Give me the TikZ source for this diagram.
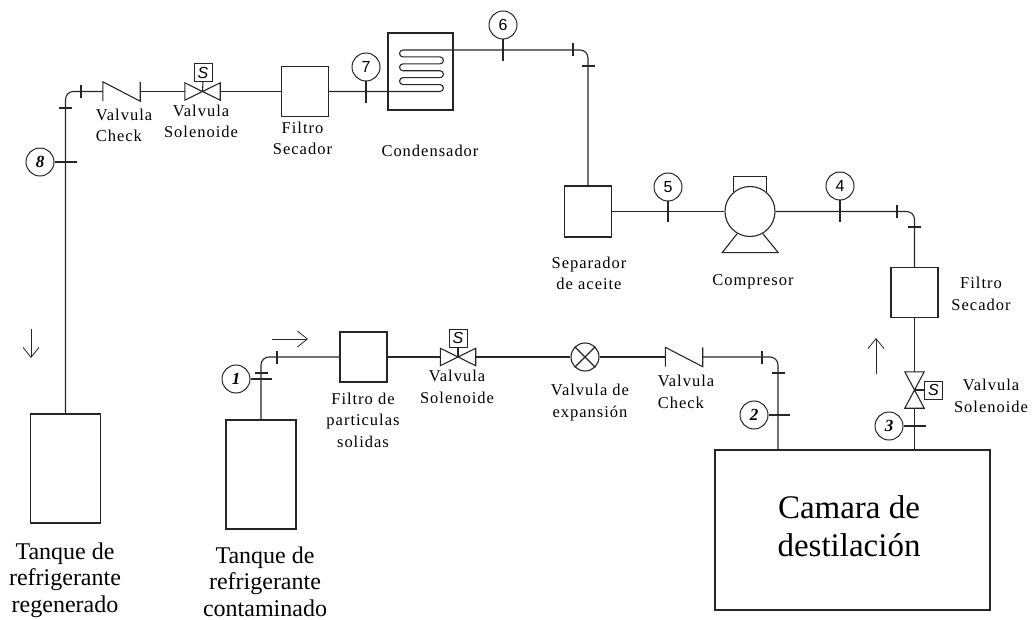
\documentclass[tikz,border=0pt]{standalone}
\usepackage{fontspec}
\setmainfont{Liberation Serif}
\newfontfamily\spacedfont[LetterSpace=6]{Liberation Serif}
\newfontfamily\digitfont{Liberation Sans}
\usetikzlibrary{arrows.meta}
\tikzset{
	pipe/.style={line width=1.1pt,black!85},
	elbow/.style={pipe,rounded corners=8pt},
	flow/.style={line width=0.8pt,black!85,-{Straight Barb[length=10pt,width=16pt]}},
	box/.style={draw=black!85,line width=1.1pt,minimum width=#1,inner sep=0pt},
	tank/.style={box=70pt,minimum height=109pt},
	filterbox/.style={box=47pt,minimum height=50pt},
	gauge/.style={circle,draw=black!85,line width=1pt,minimum size=28pt,inner sep=0pt,font=\digitfont\fontsize{16}{16}\selectfont},
	gaugeb/.style={gauge,font=\bfseries\itshape\fontsize{17}{17}\selectfont},
	sbox/.style={box=18pt,minimum height=18pt,line width=0.8pt,font=\digitfont\itshape\fontsize{16}{16}\selectfont},
	check/.style={inner sep=0pt,minimum width=37pt,minimum height=19pt},
	bowtie/.style={inner sep=0pt,minimum width=35pt,minimum height=17pt},
	small/.style={anchor=base,align=center,font=\spacedfont\fontsize{16.5}{21.5}\selectfont},
	large/.style={anchor=base,align=center,inner sep=0pt,font=\fontsize{24}{26.5}\selectfont},
	huge/.style={anchor=base,align=center,font=\fontsize{33}{38}\selectfont}
}
\begin{document}
\begin{tikzpicture}[x=1pt,y=-1pt]
	\useasboundingbox (0,0) rectangle (1033,620);
	% equipment
	\node[tank] (tankr) at (65.5,468.5) {};
	\node[tank] (tankc) at (261,474.5) {};
	\node[box=275pt,minimum height=160pt] (cam) at (852.5,530) {};
	\node[filterbox] (filt1) at (363.5,357) {};
	\node[filterbox] (filt2) at (305,91.5) {};
	\node[filterbox] (filt3) at (914.5,292.5) {};
	\node[filterbox,minimum height=51pt] (sep) at (588,211.5) {};
	\node[box=65pt,minimum height=77pt] (cond) at (420.5,71.5) {};
	\node[circle,draw=black!85,line width=1.1pt,minimum size=50pt,inner sep=0pt] (comp) at (750,211.5) {};
	\node[circle,draw=black!85,line width=1.1pt,minimum size=28pt,inner sep=0pt] (exp) at (585,357) {};
	% valves
	\node[check] (chk1) at (121.5,91.5) {};
	\node[check] (chk2) at (684,357) {};
	\node[bowtie] (sol1) at (202.5,91.5) {};
	\node[bowtie] (sol2) at (458,357) {};
	\node[bowtie,minimum width=19pt,minimum height=36pt] (sol3) at (914.5,390) {};
	\node[sbox] (s1) at (203,72.5) {S};
	\node[sbox] (s2) at (458,338) {S};
	\node[sbox] (s3) at (933.5,390) {S};
	% gauges
	\node[gaugeb] (g1) at (236,379) {1};
	\node[gaugeb] (g2) at (754,415) {2};
	\node[gaugeb] (g3) at (889,426) {3};
	\node[gauge] (g4) at (840,186) {4};
	\node[gauge] (g5) at (668,187) {5};
	\node[gauge] (g6) at (503,25) {6};
	\node[gauge] (g7) at (366,67) {7};
	\node[gaugeb] (g8) at (40,162) {8};
	\coordinate (t1) at (272,379);
	\coordinate (t2) at (790,415);
	\coordinate (t3) at (926,426);
	\coordinate (t4) at (840,222);
	\coordinate (t5) at (668,222);
	\coordinate (t6) at (503,61);
	\coordinate (t7) at (366,103);
	\coordinate (t8) at (77,162);
	\foreach \g in {1,...,8}
		\draw[pipe] (g\g) -- (t\g);
	% valve bodies
	\foreach \v in {chk1,chk2}
		\draw[pipe] (\v.south west) -- (\v.north west) -- (\v.south east) -- (\v.north east);
	\foreach \v in {sol1,sol2}
		\draw[pipe] (\v.north west) -- (\v.south east) -- (\v.north east) -- (\v.south west) -- cycle;
	\draw[pipe] (sol3.north west) -- (sol3.north east) -- (sol3.south west) -- (sol3.south east) -- cycle;
	\draw[pipe] (s1.south) -- (sol1.center);
	\draw[pipe] (s2.south) -- (sol2.center);
	\draw[pipe] (s3.west) -- (sol3.center);
	\draw[pipe] (exp.north west) -- (exp.south east) (exp.north east) -- (exp.south west);
	% compressor
	\draw[pipe] (comp.130) -- ++(0,-15) -| (comp.50);
	\draw[pipe] (comp.240) -- ++(-15,19) -- ++(56,0) -- (comp.300);
	% lines
	\coordinate (coilout) at (403,50);
	\coordinate (cam2) at (778,450);
	\draw[elbow] (tankc.north) |- (filt1.west);
	\draw[pipe] (filt1.east) -- (sol2.west);
	\draw[pipe] (sol2.east) -- (exp.west);
	\draw[pipe] (exp.east) -- (chk2.west);
	\draw[elbow] (chk2.east) -| (cam2);
	\draw[pipe] (cam.north -| sol3) -- (sol3.south);
	\draw[pipe] (sol3.north) -- (filt3.south);
	\draw[elbow] (filt3.north) |- (comp.east);
	\draw[pipe] (comp.west) -- (sep.east);
	\draw[elbow] (sep.north) |- (coilout);
	\draw[pipe] (coilout) arc (270:90:3.46) -- ++(37,0) arc (-90:90:3.46) -- ++(-37,0)
		arc (270:90:3.46) -- ++(37,0) arc (-90:90:3.46) -- ++(-37,0)
		arc (270:90:3.46) -- ++(37,0) arc (-90:90:3.46) -- (filt2.east);
	\draw[pipe] (filt2.west) -- (sol1.east);
	\draw[pipe] (sol1.west) -- (chk1.east);
	\draw[elbow] (chk1.west) -| (tankr.north);
	% fittings
	\foreach \tx/\ty in {81/91.5,573/50,897/211.5,277/357,762/357}
		\draw[pipe] (\tx,\ty-6.5) -- (\tx,\ty+6.5);
	\foreach \tx/\ty in {65.5/108,588/66,914.5/227,261/373,778/373}
		\draw[pipe] (\tx-6.5,\ty) -- (\tx+6.5,\ty);
	% flow direction
	\coordinate (fa) at (272,339);
	\coordinate (fb) at (308,339);
	\coordinate (fc) at (876,374);
	\coordinate (fd) at (876,338);
	\coordinate (fe) at (31,329);
	\coordinate (ff) at (31,358);
	\draw[flow] (fa) -- (fb);
	\draw[flow] (fc) -- (fd);
	\draw[flow] (fe) -- (ff);
	% labels
	\node[small,align=left] (l1) at (124,142) {Valvula\\Check};
	\node[small] (l2) at (201,138) {Valvula\\Solenoide};
	\node[small] (l3) at (302.5,155) {Filtro\\Secador};
	\node[small] (l4) at (430,157) {Condensador};
	\node[small] (l5) at (589,290) {Separador\\de aceite};
	\node[small] (l6) at (753,286) {Compresor};
	\node[small] (l7) at (981,310) {Filtro\\Secador};
	\node[small] (l8) at (991,412) {Valvula\\Solenoide};
	\node[small,align=left] (l9) at (686,408) {Valvula\\Check};
	\node[small] (l10) at (590,417) {Valvula de\\expansión};
	\node[small] (l11) at (457,403) {Valvula\\Solenoide};
	\node[small] (l12) at (363,447) {Filtro de\\particulas\\solidas};
	\node[large] (l13) at (65,612) {Tanque de\\refrigerante\\regenerado};
	\node[large] (l14) at (265,616) {Tanque de\\refrigerante\\contaminado};
	\node[huge] (l15) at (849,556) {Camara de\\destilación};
\end{tikzpicture}
\end{document}
